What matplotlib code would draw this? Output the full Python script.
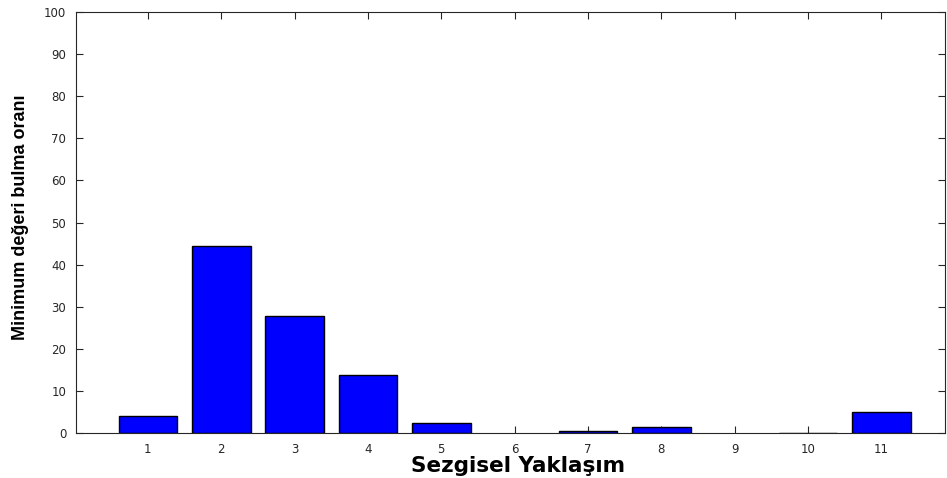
import matplotlib
matplotlib.use("Agg")
import matplotlib.pyplot as plt

categories = [1, 2, 3, 4, 5, 6, 7, 8, 9, 10, 11]
values = [4.0, 44.4, 27.7, 13.8, 2.4, 0.0, 0.5, 1.5, 0.0, 0.1, 5.1]
yticks = [0, 10, 20, 30, 40, 50, 60, 70, 80, 90, 100]

fig = plt.figure(figsize=(9.47, 4.78), dpi=100)
W, H = 947, 478
ax = fig.add_axes([76 / W, (H - 433) / H, (945 - 76) / W, (433 - 12) / H])

edgecolors = ['black' if v > 0 else 'none' for v in values]
ax.bar(categories, values, width=0.8, color='#0000ff', edgecolor=edgecolors, linewidth=1.0, zorder=2)

ax.set_xlim(0.02, 11.87)
ax.set_ylim(0, 100)
ax.set_xticks(categories)
ax.set_xticklabels([str(c) for c in categories], fontfamily='DejaVu Sans', fontsize=8.5)
ax.set_yticks(yticks)
ax.set_yticklabels([str(v) for v in yticks], fontfamily='DejaVu Sans', fontsize=8.5)
ax.tick_params(direction='in', length=5, width=0.8, top=True, right=True, colors='#262626', labelcolor='#262626', pad=7)
for s in ax.spines.values():
    s.set_linewidth(0.8)
    s.set_color('#262626')

ax.set_xlabel('Sezgisel Yaklaşım', fontfamily='DejaVu Sans', fontweight='bold', fontsize=15.5, va='center')
ax.xaxis.set_label_coords((518.5 - 76) / 869, (433 - 466) / 421)
ax.set_ylabel('Minimum değeri bulma oranı', fontfamily='Liberation Sans', fontweight='bold', fontsize=13, va='center')
ax.yaxis.set_label_coords((21 - 76) / 869, (433 - 217.5) / 421)

fig.savefig('out.png', dpi=100)
